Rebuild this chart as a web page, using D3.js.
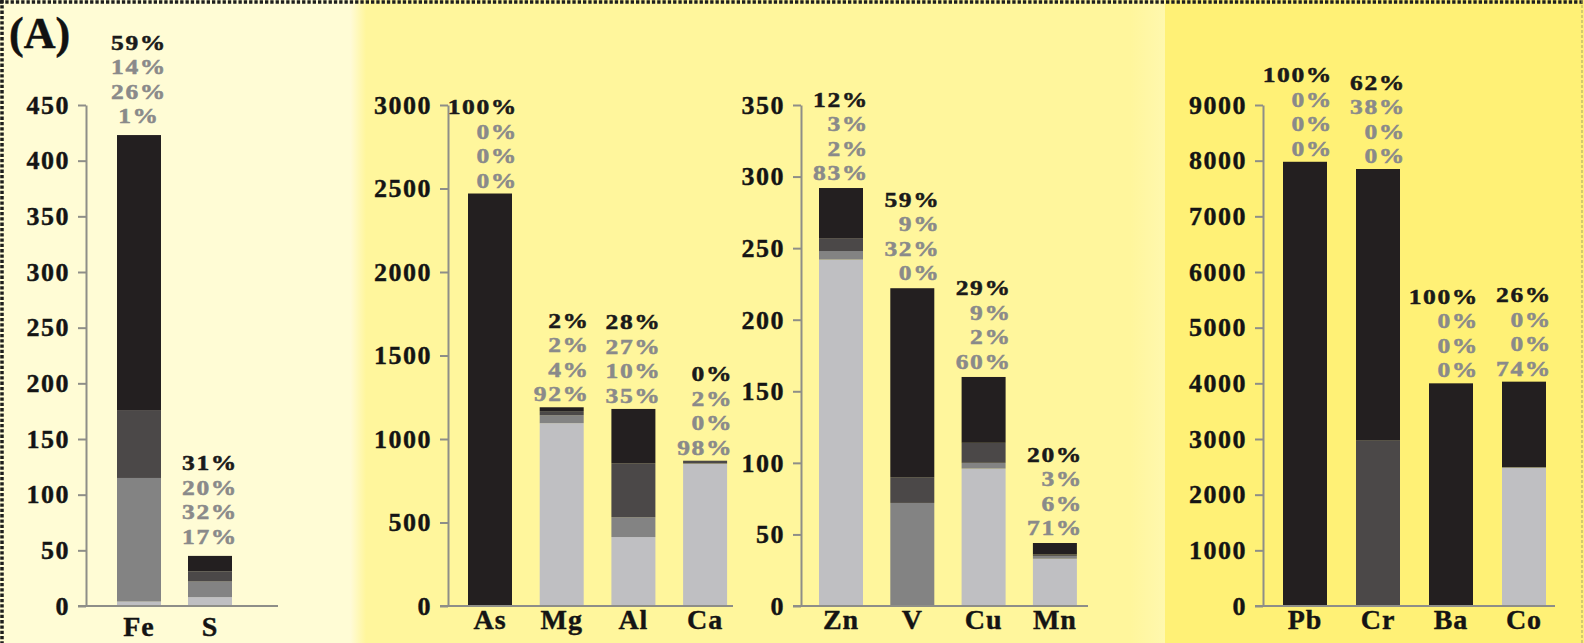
<!DOCTYPE html>
<html>
<head>
<meta charset="utf-8">
<script src="https://cdn.jsdelivr.net/npm/d3@7"></script>
<style>
  body { margin: 0; background: #fff; }
  svg { display: block; }
  text { font-family: "Liberation Serif", "Times New Roman", Times, serif; font-weight: bold; }
</style>
</head>
<body>
<svg id="chart"></svg>
<script>
const width = 1584;
const height = 643;

// elements, one array per panel
const elements1 = ["Fe", "S"];
const elements2 = ["As", "Mg", "Al", "Ca"];
const elements3 = ["Zn", "V", "Cu", "Mn"];
const elements4 = ["Pb", "Cr", "Ba", "Co"];

// stacked segments (bottom -> top): light grey, mid grey, dark grey, black
const light1 = [4, 8];
const mid1 = [111, 14];
const dark1 = [61, 9];
const black1 = [247, 14];

const light2 = [0, 1095, 413, 853];
const mid2 = [0, 48, 119, 0];
const dark2 = [0, 24, 323, 17];
const black2 = [2470, 23, 325, 0];

const light3 = [242, 0, 96, 33];
const mid3 = [6, 72, 4, 2];
const dark3 = [9, 18, 14, 1];
const black3 = [35, 132, 46, 8];

const light4 = [0, 0, 0, 2490];
const mid4 = [0, 0, 0, 0];
const dark4 = [0, 2980, 0, 0];
const black4 = [7980, 4870, 4000, 1540];

// percent labels above each bar (top line first: black, dark, mid, light)
const pct1 = [["59%", "14%", "26%", "1%"], ["31%", "20%", "32%", "17%"]];
const pct2 = [["100%", "0%", "0%", "0%"], ["2%", "2%", "4%", "92%"],
              ["28%", "27%", "10%", "35%"], ["0%", "2%", "0%", "98%"]];
const pct3 = [["12%", "3%", "2%", "83%"], ["59%", "9%", "32%", "0%"],
              ["29%", "9%", "2%", "60%"], ["20%", "3%", "6%", "71%"]];
const pct4 = [["100%", "0%", "0%", "0%"], ["62%", "38%", "0%", "0%"],
              ["100%", "0%", "0%", "0%"], ["26%", "0%", "0%", "74%"]];

// y tick labels
const ticks1 = [0, 50, 100, 150, 200, 250, 300, 350, 400, 450];
const ticks2 = [0, 500, 1000, 1500, 2000, 2500, 3000];
const ticks3 = [0, 50, 100, 150, 200, 250, 300, 350];
const ticks4 = [0, 1000, 2000, 3000, 4000, 5000, 6000, 7000, 8000, 9000];

const keys = ["light", "mid", "dark", "black"];
const fill = { light: "#bfbfc2", mid: "#838383", dark: "#4b4848", black: "#231f20" };

const panels = [
  { names: elements1, segs: [light1, mid1, dark1, black1], pct: pct1, ticks: ticks1,
    axisX: 86, firstBar: 117, step: 71, axisEnd: 278, anchor: "middle", gap: 12, nameY: 636 },
  { names: elements2, segs: [light2, mid2, dark2, black2], pct: pct2, ticks: ticks2,
    axisX: 448, firstBar: 468, step: 71.7, axisEnd: 733, anchor: "end", gap: 6, nameY: 629 },
  { names: elements3, segs: [light3, mid3, dark3, black3], pct: pct3, ticks: ticks3,
    axisX: 801, firstBar: 819, step: 71.3, axisEnd: 1088, anchor: "end", gap: 8, nameY: 629 },
  { names: elements4, segs: [light4, mid4, dark4, black4], pct: pct4, ticks: ticks4,
    axisX: 1263, firstBar: 1283, step: 73, axisEnd: 1555, anchor: "end", gap: 6, nameY: 629 }
];

const yTop = 105;
const yBase = 606;
const barW = 44;
const lineH = 24.5;
const pctSize = 22;   // kept small enough that stacked lines do not collide
const pctStretch = 1.16;

const svg = d3.select("#chart").attr("width", width).attr("height", height);

// backgrounds
const defs = svg.append("defs");
const g1 = defs.append("linearGradient").attr("id", "edge1");
g1.append("stop").attr("offset", "0%").attr("stop-color", "#fffbd8");
g1.append("stop").attr("offset", "100%").attr("stop-color", "#fff69c");
const g2 = defs.append("linearGradient").attr("id", "edge2");
g2.append("stop").attr("offset", "0%").attr("stop-color", "#fff69c");
g2.append("stop").attr("offset", "100%").attr("stop-color", "#fff8ae");

svg.append("rect").attr("width", width).attr("height", height).attr("fill", "#fff69c");
svg.append("rect").attr("x", 0).attr("width", 350).attr("height", height).attr("fill", "#fffcd5");
svg.append("rect").attr("x", 350).attr("width", 16).attr("height", height).attr("fill", "url(#edge1)");
svg.append("rect").attr("x", 1130).attr("width", 35).attr("height", height).attr("fill", "url(#edge2)");
svg.append("rect").attr("x", 1165).attr("width", width - 1165).attr("height", height).attr("fill", "#fff176");

// dotted frame
svg.append("line").attr("x1", 0).attr("x2", width).attr("y1", 2).attr("y2", 2)
  .attr("stroke", "#1e1e1e").attr("stroke-width", 3.5).attr("stroke-dasharray", "3.3,2");
svg.append("line").attr("x1", 2).attr("x2", 2).attr("y1", 0).attr("y2", height)
  .attr("stroke", "#1e1e1e").attr("stroke-width", 3.5).attr("stroke-dasharray", "3.3,2");
svg.append("line").attr("x1", width - 2).attr("x2", width - 2).attr("y1", 0).attr("y2", height)
  .attr("stroke", "#a9a36a").attr("stroke-width", 1).attr("stroke-dasharray", "3,2");

svg.append("text").text("(A)")
  .attr("x", 9).attr("y", 48)
  .attr("font-size", 44).attr("fill", "#111")
  .attr("stroke", "#111").attr("stroke-width", 0.5);

panels.forEach((p) => {
  const rows = p.names.map((n, i) => {
    const r = { name: n, pct: p.pct[i] };
    keys.forEach((k, j) => (r[k] = p.segs[j][i]));
    r.total = d3.sum(keys, (k) => r[k]);
    return r;
  });

  const y = d3.scaleLinear().domain([0, d3.max(p.ticks)]).range([yBase, yTop]);
  const pad = 1 - barW / p.step;
  const x0 = p.firstBar - (p.step * pad) / 2;
  const x = d3
    .scaleBand()
    .domain(p.names)
    .range([x0, x0 + p.names.length * p.step])
    .paddingInner(pad)
    .paddingOuter(pad / 2);

  const g = svg.append("g");

  // stacked bars
  const series = d3.stack().keys(keys)(rows);
  g.selectAll("g.layer")
    .data(series)
    .join("g")
    .attr("class", "layer")
    .attr("fill", (d) => fill[d.key])
    .selectAll("rect")
    .data((d) => d)
    .join("rect")
    .attr("x", (d) => x(d.data.name))
    .attr("width", x.bandwidth())
    .attr("y", (d) => y(d[1]))
    .attr("height", (d) => y(d[0]) - y(d[1]));

  // y axis
  const axis = g
    .append("g")
    .attr("transform", `translate(${p.axisX},0)`)
    .call(
      d3.axisLeft(y)
        .tickValues(p.ticks)
        .tickFormat(d3.format("d"))
        .tickSize(8)
        .tickSizeOuter(0)
        .tickPadding(8)
    );
  axis.attr("font-family", null).attr("font-size", null);
  axis.select(".domain").attr("stroke", "#8e8e88").attr("stroke-width", 2);
  axis.selectAll(".tick line").attr("stroke", "#8e8e88").attr("stroke-width", 2);
  axis.selectAll(".tick text")
    .attr("fill", "#141414")
    .attr("stroke", "#141414")
    .attr("stroke-width", 0.4)
    .attr("font-size", 26)
    .attr("letter-spacing", 1.5);

  // baseline
  g.append("line")
    .attr("x1", p.axisX - 8)
    .attr("x2", p.axisEnd)
    .attr("y1", y(0))
    .attr("y2", y(0))
    .attr("stroke", "#8e8e88")
    .attr("stroke-width", 2);

  // element names
  g.selectAll("text.name")
    .data(rows)
    .join("text")
    .attr("class", "name")
    .attr("x", (d) => x(d.name) + x.bandwidth() / 2)
    .attr("y", p.nameY)
    .attr("text-anchor", "middle")
    .attr("font-size", 28)
    .attr("letter-spacing", 1)
    .attr("fill", "#141414")
    .attr("stroke", "#141414")
    .attr("stroke-width", 0.4)
    .text((d) => d.name);

  // percentage labels: four stacked lines per bar, widened to the reference's letter shapes
  const labelX = (d) =>
    p.anchor === "middle" ? x(d.name) + x.bandwidth() / 2 : x(d.name) + x.bandwidth() + 6;

  g.selectAll("text.pct")
    .data(rows)
    .join("text")
    .attr("class", "pct")
    .attr("transform", (d) =>
      `translate(${labelX(d)},${y(d.total) - p.gap - 3 * lineH}) scale(${pctStretch},1)`)
    .attr("text-anchor", p.anchor)
    .attr("font-size", pctSize)
    .attr("letter-spacing", 1.4)
    .attr("stroke-width", 0.5)
    .selectAll("tspan")
    .data((d) => d.pct)
    .join("tspan")
    .attr("x", 0)
    .attr("dy", (d, k) => (k === 0 ? 0 : lineH))
    .attr("fill", (d, k) => (k === 0 ? "#1a1a1a" : "#8a8a8a"))
    .attr("stroke", (d, k) => (k === 0 ? "#1a1a1a" : "#8a8a8a"))
    .text((d) => d);
});
</script>
</body>
</html>
